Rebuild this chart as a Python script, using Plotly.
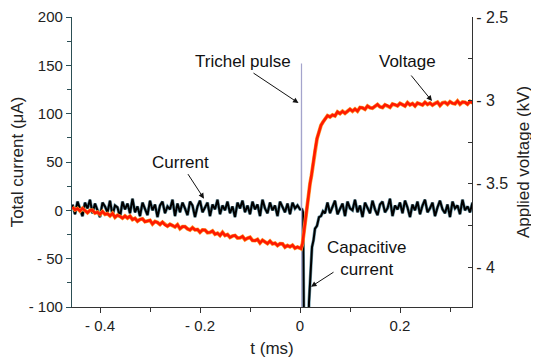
import plotly.graph_objects as go

# ---------------- data ----------------
# pre-pulse samples, t = -0.455 ... 0.000 ms, step 0.005
cur_pre = [6, -4, 9, 1, -6, 8, 2, 11, -3, 7,
           0, -7, 8, 4, -2, 10, -5, 5, 3, -7,
           9, 1, 7, -3, 12, -2, 4, -6, 8, 2,
           -5, 10, 0, 6, -7, 5, 9, -3, 4, 1,
           11, -6, 7, -2, 8, 2, -5, 9, 5, -7,
           4, 10, -2, 3, 8, -6, 6, 1, 11, -4,
           5, 0, 9, -3, 4, -7, 8, 2, 10, -2,
           5, -4, 9, 1, 6, -6, 11, 2, -3, 8,
           0, 5, -6, 9, 3, -2, 7, -4, 8, 2,
           5, 1]
volt_pre = [-3.640, -3.657, -3.649, -3.664, -3.648, -3.662, -3.674, -3.660, -3.659, -3.676,
            -3.671, -3.684, -3.667, -3.684, -3.680, -3.693, -3.678, -3.702, -3.689, -3.696,
            -3.707, -3.694, -3.706, -3.695, -3.715, -3.708, -3.725, -3.715, -3.711, -3.728,
            -3.726, -3.720, -3.742, -3.727, -3.733, -3.745, -3.731, -3.747, -3.755, -3.744,
            -3.751, -3.760, -3.746, -3.770, -3.758, -3.758, -3.771, -3.778, -3.764, -3.777,
            -3.775, -3.792, -3.777, -3.778, -3.794, -3.792, -3.784, -3.803, -3.797, -3.811,
            -3.792, -3.811, -3.805, -3.822, -3.814, -3.811, -3.826, -3.825, -3.817, -3.836,
            -3.827, -3.822, -3.841, -3.842, -3.835, -3.856, -3.839, -3.849, -3.859, -3.845,
            -3.861, -3.857, -3.871, -3.860, -3.861, -3.881, -3.871, -3.879, -3.869, -3.887,
            -3.880, -3.887]

# Trichel pulse
pulse_t = [0.0025, 0.003, 0.0035]
pulse_i = [2, 152, -110]

# capacitive current transient
cur_tr_t = [0.004, 0.006, 0.008, 0.0165, 0.018, 0.020, 0.022, 0.024, 0.027, 0.030,
            0.034, 0.038, 0.042, 0.046, 0.050]
cur_tr = [1, -2, -130, -130, -95, -70, -55, -38, -31, -19, -16, -7, -6, -1, -3]

# voltage recovery transient
volt_tr_t = [0.002, 0.005, 0.008, 0.011, 0.014, 0.017, 0.020, 0.023, 0.026, 0.030,
             0.034, 0.038, 0.042, 0.046, 0.050]
volt_tr = [-3.89, -3.86, -3.78, -3.70, -3.63, -3.56, -3.50, -3.45, -3.38, -3.30,
           -3.23, -3.19, -3.15, -3.13, -3.11]

# post-pulse samples, t = 0.055 ... 0.345 ms, step 0.005
cur_post = [8, -3, 4, 10, -4, 1, 7, -6, 9, 2,
            0, 11, -2, 5, -7, 8, 3, -3, 10, 1,
            -5, 6, 9, -2, 2, 12, -6, 5, 1, 8,
            -3, 10, 3, -7, 6, 0, 9, -4, 5, 11,
            -2, 2, 8, -6, 3, 10, 1, -3, 6, -7,
            9, 2, 5, -4, 11, 0, 4, -2, 8]
volt_post = [-3.092, -3.100, -3.088, -3.094, -3.069, -3.079, -3.066, -3.078, -3.064, -3.053,
             -3.065, -3.052, -3.065, -3.043, -3.045, -3.054, -3.034, -3.044, -3.047, -3.033,
             -3.025, -3.039, -3.043, -3.027, -3.032, -3.042, -3.022, -3.026, -3.033, -3.018,
             -3.027, -3.034, -3.014, -3.028, -3.020, -3.034, -3.016, -3.021, -3.028, -3.012,
             -3.025, -3.016, -3.029, -3.019, -3.011, -3.031, -3.015, -3.012, -3.024, -3.008,
             -3.018, -3.021, -3.004, -3.023, -3.010, -3.012, -3.023, -3.006, -3.015]

x_ticks = [-0.4, -0.2, 0, 0.2]
x_ticktext = ["- 0.4", "- 0.2", "0", "0.2"]
y1_ticks = [-100, -50, 0, 50, 100, 150, 200]
y1_ticktext = ["- 100", "- 50", "0", "50", "100", "150", "200"]
y2_ticks = [-2.5, -3, -3.5, -4]
y2_ticktext = ["- 2.5", "- 3", "- 3.5", "- 4"]

# ---------------- assemble series ----------------
t_pre = [round(-0.455 + 0.005 * i, 4) for i in range(len(cur_pre))]
t_vpre = [round(-0.455 + 0.005 * i, 4) for i in range(len(volt_pre))]
t_cpost = [round(0.055 + 0.005 * i, 4) for i in range(len(cur_post))]
t_vpost = [round(0.055 + 0.005 * i, 4) for i in range(len(volt_post))]

t_cur = t_pre + cur_tr_t + t_cpost
i_cur = cur_pre + cur_tr + cur_post
t_volt = t_vpre + volt_tr_t + t_vpost
v_volt = volt_pre + volt_tr + volt_post

FONT = "Arial, Liberation Sans, sans-serif"

fig = go.Figure()
fig.add_trace(go.Scatter(x=t_cur, y=i_cur, mode="lines", yaxis="y",
                         line=dict(color="#6c98a8", width=3.2), hoverinfo="skip"))
fig.add_trace(go.Scatter(x=t_cur, y=i_cur, mode="lines", yaxis="y",
                         line=dict(color="#000000", width=2.0)))
fig.add_trace(go.Scatter(x=pulse_t, y=pulse_i, mode="lines", yaxis="y",
                         line=dict(color="#a4a4cc", width=1.2)))
fig.add_trace(go.Scatter(x=t_volt, y=v_volt, mode="lines", yaxis="y2",
                         line=dict(color="#ff9a30", width=3.8), hoverinfo="skip"))
fig.add_trace(go.Scatter(x=t_volt, y=v_volt, mode="lines", yaxis="y2",
                         line=dict(color="#ff1a00", width=2.6)))

tick_font = dict(family=FONT, size=15, color="#222")
tick_font2 = dict(family=FONT, size=16, color="#222")
title_font = dict(family=FONT, size=17, color="#222")

# the page body adds an 8 px offset, so the figure is 8 px smaller and margins compensate
fig.update_layout(
    width=531, height=352,
    margin=dict(l=64, r=67, t=9, b=53),
    paper_bgcolor="white", plot_bgcolor="white",
    showlegend=False,
    font=dict(family=FONT, size=15, color="#222"),
    xaxis=dict(range=[-0.456, 0.344], tickmode="array", tickvals=x_ticks, ticktext=x_ticktext,
               ticks="outside", ticklen=5, tickcolor="#333", showline=True, linecolor="#333",
               linewidth=1, showgrid=False, zeroline=False, tickfont=tick_font, automargin=False,
               minor=dict(tickvals=[-0.3, -0.1, 0.1, 0.3], ticks="outside", ticklen=4, tickcolor="#333"),
               title=dict(text="t (ms)", font=title_font, standoff=9)),
    yaxis=dict(range=[-100, 200], tickmode="array", tickvals=y1_ticks, ticktext=y1_ticktext,
               ticks="outside", ticklen=5, tickcolor="#2c4f55", showline=True, linecolor="#2c4f55",
               linewidth=1.2, showgrid=False, zeroline=False, tickfont=tick_font, automargin=False,
               minor=dict(tickvals=[-75, -25, 25, 75, 125, 175], ticks="outside", ticklen=4,
                          tickcolor="#2c4f55"),
               title=dict(text="Total current (μA)", font=title_font, standoff=2)),
    yaxis2=dict(range=[-4.24, -2.5], overlaying="y", side="right", anchor="x",
                tickmode="array", tickvals=y2_ticks, ticktext=y2_ticktext,
                ticks="inside", ticklen=4, tickcolor="#333", showline=True, linecolor="#333",
                linewidth=1, showgrid=False, zeroline=False, tickfont=tick_font2, automargin=False,
                minor=dict(tickvals=[-2.75, -3.25, -3.75], ticks="inside", ticklen=4, tickcolor="#333"),
                title=dict(text="Applied voltage (kV)", font=title_font, standoff=9)),
)

# text labels
labels = [
    ("Trichel pulse", -0.114, 154),
    ("Voltage", 0.214, 154),
    ("Current", -0.240, 50),
    ("Capacitive<br>current", 0.132, -50),
]
for txt, tx, ty in labels:
    fig.add_annotation(x=tx, y=ty, xref="x", yref="y", text=txt, showarrow=False,
                       font=dict(family=FONT, size=17, color="#111"))

# arrows: (head t, head i, tail t, tail i)
arrows = [
    (-0.003, 111, -0.096, 143),
    (0.264, 113, 0.220, 141),
    (-0.192, 12, -0.226, 39),
    (0.022, -79, 0.070, -63),
]
for hx, hy, tx, ty in arrows:
    fig.add_annotation(x=hx, y=hy, ax=tx, ay=ty, xref="x", yref="y", axref="x", ayref="y",
                       text="", showarrow=True, arrowhead=2, arrowsize=1.1, arrowwidth=1,
                       arrowcolor="#111", standoff=0, startstandoff=0)

fig.write_html("out.html")
